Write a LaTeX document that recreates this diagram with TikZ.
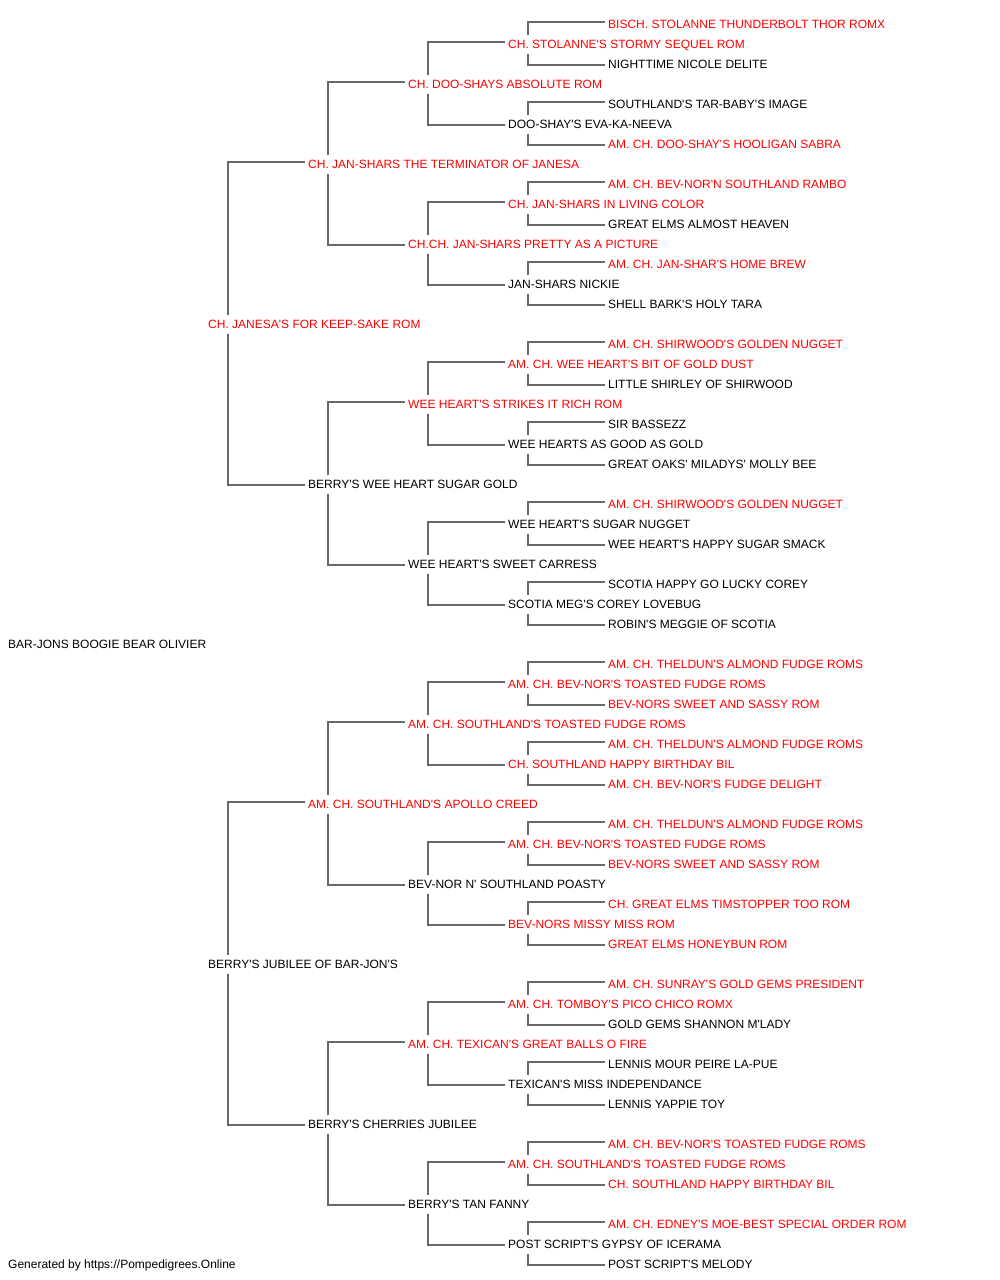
\documentclass[tikz,border=0pt]{standalone}
\usepackage{fontspec}
\setmainfont{Liberation Sans}
\newcommand\apos{\textquotesingle}
\definecolor{titred}{RGB}{255,0,0}
\definecolor{txtblk}{RGB}{0,0,0}
\definecolor{lncol}{RGB}{105,105,105}
\tikzset{
  lbl/.style={anchor=base west, inner sep=0pt, font=\fontsize{12pt}{14pt}\selectfont, text=txtblk},
  ttl/.style={lbl, text=titred},
  conn/.style={draw=lncol, line width=1.4pt},
}
% text is placed at baseline = 28 + 20 r (image y)
\newcommand\pedlink[3]{%
  \draw[conn] ([shift={(20pt,13pt)}]#1.base west) |- ([shift={(-3pt,6pt)}]#2.base west);
  \draw[conn] ([shift={(20pt,-6pt)}]#1.base west) |- ([shift={(-3pt,3pt)}]#3.base west);
}
\begin{document}
\begin{tikzpicture}[x=1pt,y=-1pt]
\fill[white] (0,0) rectangle (1000,1280);
\useasboundingbox (0,0) rectangle (1000,1280);
\node[ttl] (n0) at (608,28) {BISCH. STOLANNE THUNDERBOLT THOR ROMX};
\node[ttl] (n1) at (508,48) {CH. STOLANNE\apos{}S STORMY SEQUEL ROM};
\node[lbl] (n2) at (608,68) {NIGHTTIME NICOLE DELITE};
\node[ttl] (n3) at (408,88) {CH. DOO-SHAYS ABSOLUTE ROM};
\node[lbl] (n4) at (608,108) {SOUTHLAND\apos{}S TAR-BABY\apos{}S IMAGE};
\node[lbl] (n5) at (508,128) {DOO-SHAY\apos{}S EVA-KA-NEEVA};
\node[ttl] (n6) at (608,148) {AM. CH. DOO-SHAY\apos{}S HOOLIGAN SABRA};
\node[ttl] (n7) at (308,168) {CH. JAN-SHARS THE TERMINATOR OF JANESA};
\node[ttl] (n8) at (608,188) {AM. CH. BEV-NOR\apos{}N SOUTHLAND RAMBO};
\node[ttl] (n9) at (508,208) {CH. JAN-SHARS IN LIVING COLOR};
\node[lbl] (n10) at (608,228) {GREAT ELMS ALMOST HEAVEN};
\node[ttl] (n11) at (408,248) {CH.CH. JAN-SHARS PRETTY AS A PICTURE};
\node[ttl] (n12) at (608,268) {AM. CH. JAN-SHAR\apos{}S HOME BREW};
\node[lbl] (n13) at (508,288) {JAN-SHARS NICKIE};
\node[lbl] (n14) at (608,308) {SHELL BARK\apos{}S HOLY TARA};
\node[ttl] (n15) at (208,328) {CH. JANESA\apos{}S FOR KEEP-SAKE ROM};
\node[ttl] (n16) at (608,348) {AM. CH. SHIRWOOD\apos{}S GOLDEN NUGGET};
\node[ttl] (n17) at (508,368) {AM. CH. WEE HEART\apos{}S BIT OF GOLD DUST};
\node[lbl] (n18) at (608,388) {LITTLE SHIRLEY OF SHIRWOOD};
\node[ttl] (n19) at (408,408) {WEE HEART\apos{}S STRIKES IT RICH ROM};
\node[lbl] (n20) at (608,428) {SIR BASSEZZ};
\node[lbl] (n21) at (508,448) {WEE HEARTS AS GOOD AS GOLD};
\node[lbl] (n22) at (608,468) {GREAT OAKS\apos{} MILADYS\apos{} MOLLY BEE};
\node[lbl] (n23) at (308,488) {BERRY\apos{}S WEE HEART SUGAR GOLD};
\node[ttl] (n24) at (608,508) {AM. CH. SHIRWOOD\apos{}S GOLDEN NUGGET};
\node[lbl] (n25) at (508,528) {WEE HEART\apos{}S SUGAR NUGGET};
\node[lbl] (n26) at (608,548) {WEE HEART\apos{}S HAPPY SUGAR SMACK};
\node[lbl] (n27) at (408,568) {WEE HEART\apos{}S SWEET CARRESS};
\node[lbl] (n28) at (608,588) {SCOTIA HAPPY GO LUCKY COREY};
\node[lbl] (n29) at (508,608) {SCOTIA MEG\apos{}S COREY LOVEBUG};
\node[lbl] (n30) at (608,628) {ROBIN\apos{}S MEGGIE OF SCOTIA};
\node[lbl] (n31) at (8,648) {BAR-JONS BOOGIE BEAR OLIVIER};
\node[ttl] (n32) at (608,668) {AM. CH. THELDUN\apos{}S ALMOND FUDGE ROMS};
\node[ttl] (n33) at (508,688) {AM. CH. BEV-NOR\apos{}S TOASTED FUDGE ROMS};
\node[ttl] (n34) at (608,708) {BEV-NORS SWEET AND SASSY ROM};
\node[ttl] (n35) at (408,728) {AM. CH. SOUTHLAND\apos{}S TOASTED FUDGE ROMS};
\node[ttl] (n36) at (608,748) {AM. CH. THELDUN\apos{}S ALMOND FUDGE ROMS};
\node[ttl] (n37) at (508,768) {CH. SOUTHLAND HAPPY BIRTHDAY BIL};
\node[ttl] (n38) at (608,788) {AM. CH. BEV-NOR\apos{}S FUDGE DELIGHT};
\node[ttl] (n39) at (308,808) {AM. CH. SOUTHLAND\apos{}S APOLLO CREED};
\node[ttl] (n40) at (608,828) {AM. CH. THELDUN\apos{}S ALMOND FUDGE ROMS};
\node[ttl] (n41) at (508,848) {AM. CH. BEV-NOR\apos{}S TOASTED FUDGE ROMS};
\node[ttl] (n42) at (608,868) {BEV-NORS SWEET AND SASSY ROM};
\node[lbl] (n43) at (408,888) {BEV-NOR N\apos{} SOUTHLAND POASTY};
\node[ttl] (n44) at (608,908) {CH. GREAT ELMS TIMSTOPPER TOO ROM};
\node[ttl] (n45) at (508,928) {BEV-NORS MISSY MISS ROM};
\node[ttl] (n46) at (608,948) {GREAT ELMS HONEYBUN ROM};
\node[lbl] (n47) at (208,968) {BERRY\apos{}S JUBILEE OF BAR-JON\apos{}S};
\node[ttl] (n48) at (608,988) {AM. CH. SUNRAY\apos{}S GOLD GEMS PRESIDENT};
\node[ttl] (n49) at (508,1008) {AM. CH. TOMBOY\apos{}S PICO CHICO ROMX};
\node[lbl] (n50) at (608,1028) {GOLD GEMS SHANNON M\apos{}LADY};
\node[ttl] (n51) at (408,1048) {AM. CH. TEXICAN\apos{}S GREAT BALLS O FIRE};
\node[lbl] (n52) at (608,1068) {LENNIS MOUR PEIRE LA-PUE};
\node[lbl] (n53) at (508,1088) {TEXICAN\apos{}S MISS INDEPENDANCE};
\node[lbl] (n54) at (608,1108) {LENNIS YAPPIE TOY};
\node[lbl] (n55) at (308,1128) {BERRY\apos{}S CHERRIES JUBILEE};
\node[ttl] (n56) at (608,1148) {AM. CH. BEV-NOR\apos{}S TOASTED FUDGE ROMS};
\node[ttl] (n57) at (508,1168) {AM. CH. SOUTHLAND\apos{}S TOASTED FUDGE ROMS};
\node[ttl] (n58) at (608,1188) {CH. SOUTHLAND HAPPY BIRTHDAY BIL};
\node[lbl] (n59) at (408,1208) {BERRY\apos{}S TAN FANNY};
\node[ttl] (n60) at (608,1228) {AM. CH. EDNEY\apos{}S MOE-BEST SPECIAL ORDER ROM};
\node[lbl] (n61) at (508,1248) {POST SCRIPT\apos{}S GYPSY OF ICERAMA};
\node[lbl] (n62) at (608,1268) {POST SCRIPT\apos{}S MELODY};
\node[lbl] (footer) at (8,1268) {Generated by https://Pompedigrees.Online};
% connectors
\foreach \p in {1,5,...,61}{
  \pgfmathtruncatemacro\a{\p-1}\pgfmathtruncatemacro\b{\p+1}
  \pedlink{n\p}{n\a}{n\b}
}
\foreach \p in {3,11,...,59}{
  \pgfmathtruncatemacro\a{\p-2}\pgfmathtruncatemacro\b{\p+2}
  \pedlink{n\p}{n\a}{n\b}
}
\foreach \p in {7,23,39,55}{
  \pgfmathtruncatemacro\a{\p-4}\pgfmathtruncatemacro\b{\p+4}
  \pedlink{n\p}{n\a}{n\b}
}
\foreach \p in {15,47}{
  \pgfmathtruncatemacro\a{\p-8}\pgfmathtruncatemacro\b{\p+8}
  \pedlink{n\p}{n\a}{n\b}
}
\end{tikzpicture}
\end{document}
